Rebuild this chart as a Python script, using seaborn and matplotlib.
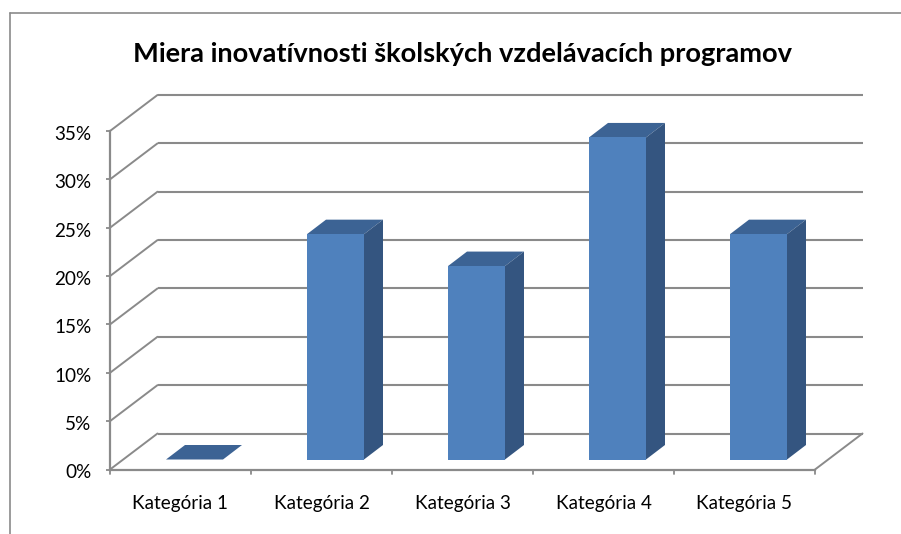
import matplotlib
matplotlib.use('Agg')
import matplotlib.pyplot as plt
from matplotlib.lines import Line2D
from matplotlib.patches import Polygon
from matplotlib.transforms import Affine2D, ScaledTranslation
import pandas as pd
import seaborn as sns

categories = ['Kategória 1', 'Kategória 2', 'Kategória 3', 'Kategória 4', 'Kategória 5']
values = [0, 23.3, 20, 33.3, 23.3]
y_ticks = [0, 5, 10, 15, 20, 25, 30, 35]
title = 'Miera inovatívnosti školských vzdelávacích programov'

W, H = 901, 534
LEFT, RIGHT, ZERO, TOP = 110, 815, 469.5, 131
GREY = '#8a8a8a'

sns.set_theme(style='white')
plt.rcParams['font.family'] = ['Lato', 'DejaVu Sans']

fig = plt.figure(figsize=(W / 100, H / 100), dpi=100, facecolor='white')
ax = fig.add_axes([LEFT / W, 1 - ZERO / H, (RIGHT - LEFT) / W, (ZERO - TOP) / H])

# pixel sizes -> data units
ux = (RIGHT - LEFT) / len(categories)
uy = (ZERO - TOP) / 35
wall_dx, wall_dy = 47.5 / ux, 36 / uy
bar_dx, bar_dy = 19 / ux, 14.5 / uy
shift_x, shift_y = 14 / ux, 10 / uy

df = pd.DataFrame({'cat': categories, 'val': values})
sns.barplot(data=df, x='cat', y='val', color='#4f81bd', saturation=1, width=57 / ux,
            linewidth=0, ax=ax, zorder=4)

ax.set_xlim(-0.5, len(categories) - 0.5)
ax.set_ylim(0, 35)

# walls and floor
x0, x1 = ax.get_xlim()
for t in y_ticks:
    ax.plot([x0 + wall_dx, x1 + wall_dx], [t + wall_dy, t + wall_dy], color=GREY, lw=1.5,
            clip_on=False, zorder=1, solid_capstyle='butt')
    ax.plot([x0, x0 + wall_dx], [t, t + wall_dy], color=GREY, lw=1.4, clip_on=False, zorder=1)
ax.plot([x1, x1 + wall_dx], [0, wall_dy], color=GREY, lw=1.4, clip_on=False, zorder=1)

# push the bars into the middle of the floor and add their 3d faces
move = Affine2D().translate(shift_x, shift_y)
for p in ax.patches[:len(values)]:
    p.set_transform(move + ax.transData)
    p.set_clip_on(False)
    bx, bw, bh = p.get_x() + shift_x, p.get_width(), p.get_height()
    by = shift_y
    top = [(bx, by + bh), (bx + bw, by + bh), (bx + bw + bar_dx, by + bh + bar_dy), (bx + bar_dx, by + bh + bar_dy)]
    side = [(bx + bw, by), (bx + bw + bar_dx, by + bar_dy), (bx + bw + bar_dx, by + bh + bar_dy), (bx + bw, by + bh)]
    ax.add_patch(Polygon(top, closed=True, fc='#3c6394', ec='none', clip_on=False, zorder=3))
    ax.add_patch(Polygon(side, closed=True, fc='#345580', ec='none', clip_on=False, zorder=3))

ax.set_yticks(y_ticks)
ax.set_yticklabels([f'{t}%' for t in y_ticks])
ax.set_xlabel('')
ax.set_ylabel('')
ax.set_xticks(range(len(categories)))
ax.set_xticklabels(categories)
ax.tick_params(axis='y', left=True, length=3, width=1.3, color=GREY, pad=10.5, labelsize=13.6, labelcolor='black')
ax.tick_params(axis='x', bottom=False, pad=12, labelsize=13.6, labelcolor='black')
down = ScaledTranslation(0, -2 / 100, fig.dpi_scale_trans)
for lab in ax.get_yticklabels():
    lab.set_transform(lab.get_transform() + down)
for i in range(len(categories) + 1):
    ax.plot([i - 0.5, i - 0.5], [0, -4 / uy], color=GREY, lw=1.3, clip_on=False, zorder=1)

for s in ['top', 'right']:
    ax.spines[s].set_visible(False)
for s in ['left', 'bottom']:
    ax.spines[s].set_color(GREY)
    ax.spines[s].set_linewidth(1.6)

fig.text(462 / W, 1 - 54 / H, title, ha='center', va='center', fontsize=19.6, fontweight='bold', color='black')

# chart frame, cropped on the right and bottom
fig.add_artist(Line2D([9.5 / W, 9.5 / W], [0, 1 - 12.5 / H], color=GREY, lw=1.2))
fig.add_artist(Line2D([9.5 / W, 1], [1 - 12.5 / H, 1 - 12.5 / H], color=GREY, lw=1.2))

fig.savefig('out.png', dpi=100)
